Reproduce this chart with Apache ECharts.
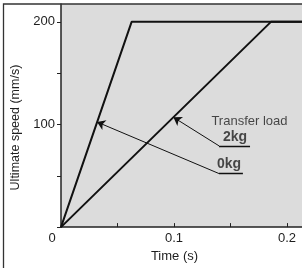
<!DOCTYPE html>
<html>
<head>
<meta charset="utf-8">
<script src="https://cdn.jsdelivr.net/npm/echarts@6/dist/echarts.min.js"></script>
<style>
  html, body { margin: 0; padding: 0; background: #fff; }
  #chart { width: 302px; height: 268px; }
</style>
</head>
<body>
<div id="chart"></div>
<script>
// speed profiles, time (s) vs speed (mm/s)
const line0kg = [[0, 0], [0.0625, 200], [0.2133, 200]]
const line2kg = [[0, 0], [0.1858, 200], [0.2133, 200]]

// ticks / labels
const xTicks = [0.05, 0.1, 0.15, 0.2]
const xLabels = [0, 0.1, 0.2]
const yTicks = [0, 50, 100, 150, 200]
const yLabels = [100, 200]

// leader lines: elbow -> tip on the curve, then underline under the text
const arrows = [
  [[0.1398, 52.2], [0.0319, 102.4]],
  [[0.1398, 79.2], [0.0995, 107]]
]
const underlines = [
  [[0.1398, 52.2], [0.161, 52.2]],
  [[0.1398, 79.2], [0.1673, 79.2]]
]
const notes = [
  { value: [0.1668, 102.7], name: 'Transfer load', bold: false },
  { value: [0.154, 87.9], name: '2kg', bold: true },
  { value: [0.1487, 60.9], name: '0kg', bold: true }
]

const font = 'Liberation Sans, Arial, sans-serif'
const ink = '#1e1e1e'

const chart = echarts.init(document.getElementById('chart'))

chart.setOption({
  animation: false,
  textStyle: { fontFamily: font, color: ink },
  grid: {
    left: 61, right: 0, top: 4, bottom: 39,
    show: true, backgroundColor: '#dcdcdc', borderWidth: 0
  },
  graphic: [{
    type: 'rect',
    shape: { x: 3.5, y: 4, width: 400, height: 400 },
    style: { fill: 'none', stroke: '#333', lineWidth: 1.3 },
    z: 100
  }],
  xAxis: {
    type: 'value', min: 0, max: 0.2133,
    name: 'Time (s)', nameLocation: 'middle', nameGap: 20,
    nameTextStyle: { fontSize: 13, color: ink, padding: [0, 14, 0, 0] },
    axisLine: { show: true, lineStyle: { color: '#222', width: 1.5 } },
    axisTick: { show: true, inside: true, length: 4, customValues: xTicks, lineStyle: { color: '#222' } },
    axisLabel: {
      customValues: xLabels, margin: 5, fontSize: 13, color: ink,
      formatter: v => v === 0 ? '{o|0}' : String(v),
      rich: { o: { fontSize: 13, color: ink, padding: [0, 18, 0, 0] } }
    },
    splitLine: { show: false }
  },
  yAxis: {
    type: 'value', min: 0, max: 217.4,
    name: 'Ultimate speed (mm/s)', nameLocation: 'middle', nameGap: 36,
    nameTextStyle: { fontSize: 12.5, color: ink, padding: [0, 24, 0, 0] },
    axisLine: { show: true, lineStyle: { color: '#222', width: 1.5 } },
    axisTick: { show: true, length: 4, customValues: yTicks, lineStyle: { color: '#222' } },
    axisLabel: { customValues: yLabels, margin: 6, fontSize: 13, color: ink },
    splitLine: { show: false }
  },
  series: [
    {
      name: '0kg', type: 'line', data: line0kg, symbol: 'none',
      lineStyle: { color: '#111', width: 2 }
    },
    {
      name: '2kg', type: 'line', data: line2kg, symbol: 'none',
      lineStyle: { color: '#111', width: 2 }
    },
    {
      type: 'lines', coordinateSystem: 'cartesian2d',
      symbol: ['none', 'arrow'], symbolSize: [5, 8],
      lineStyle: { color: '#111', width: 1, opacity: 1 },
      data: arrows.map(c => ({ coords: c }))
    },
    {
      type: 'lines', coordinateSystem: 'cartesian2d', symbol: 'none',
      lineStyle: { color: '#111', width: 1.3, opacity: 1 },
      data: underlines.map(c => ({ coords: c }))
    },
    {
      type: 'scatter', symbolSize: 0,
      label: { show: true, position: 'inside', formatter: '{b}', color: ink, fontFamily: font },
      data: notes.map(n => ({
        value: n.value, name: n.name,
        label: { fontSize: n.bold ? 14 : 13, fontWeight: n.bold ? 'bold' : 'normal' }
      }))
    }
  ]
})
</script>
</body>
</html>
